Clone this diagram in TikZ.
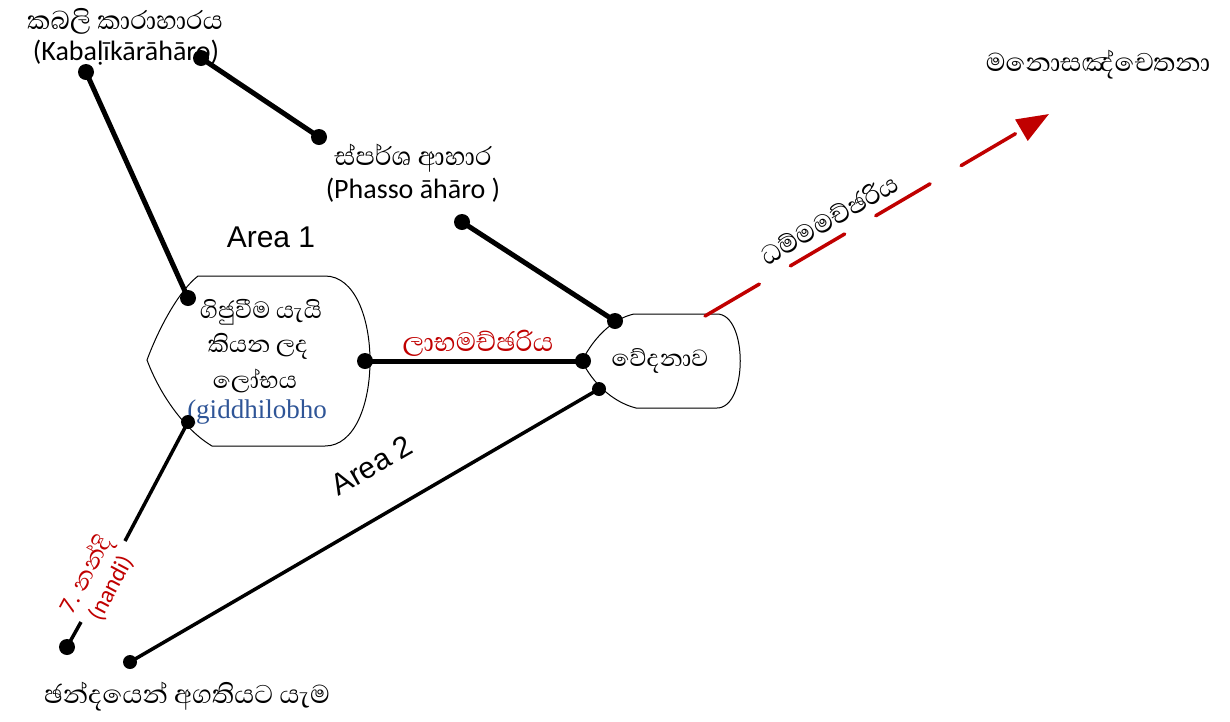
\documentclass[tikz,border=0pt]{standalone}
\usepackage{fontspec}
\usetikzlibrary{arrows.meta}
\setmainfont{Carlito}
\newfontfamily\sinhf[Script=Sinhala]{Abhaya Libre}
\newfontfamily\arialf{Liberation Sans}
\newfontfamily\timesf{Liberation Serif}
\definecolor{dred}{HTML}{C00000}
\definecolor{dblue}{HTML}{2F5597}
\tikzset{
  dot/.style={circle,fill=black,inner sep=0pt,minimum size=16pt},
  sdot/.style={circle,fill=black,inner sep=0pt,minimum size=14pt},
  thick line/.style={line width=5pt},
  thin line/.style={line width=3.5pt},
  shapebox/.style={draw=black,line width=1pt,fill=white},
  sin/.style={font=\sinhf\fontsize{33}{36}\selectfont,inner sep=0pt},
  sinin/.style={font=\sinhf\fontsize{30}{33}\selectfont,inner sep=0pt},
  lat/.style={font=\fontsize{28}{31}\selectfont,inner sep=0pt},
  area/.style={font=\arialf\fontsize{30}{34}\selectfont,inner sep=0pt},
  redarrow/.style={draw=dred,line width=3.5pt,line cap=round,dash pattern=on 63pt off 36pt,-{Triangle[length=32pt,width=24pt]}}
}
\begin{document}
\begin{tikzpicture}[x=1pt,y=-1pt]
\useasboundingbox (0,0) rectangle (1230,721);
% shapes
\path[shapebox] (147,360) .. controls (160,325) and (180,290) .. (198,276) -- (325,276)
  .. controls (385,276) and (385,446) .. (325,446) -- (212,446)
  .. controls (185,430) and (160,395) .. (147,360) -- cycle;
\path[shapebox] (582,361) .. controls (595,335) and (615,318) .. (634,314) -- (717,314)
  .. controls (748,314) and (748,408) .. (717,408) -- (636,408)
  .. controls (612,402) and (592,382) .. (582,361) -- cycle;
% texts
\node[sin] (t1) at (125,21) {කබලි කාරාහාරය};
\node[lat] (t1b) at (126,53) {(Kabaḷīkārāhāro)};
\node[sin] (t2) at (413,158) {ස්පර්ශ ආහාර};
\node[lat] (t2b) at (413,190) {(Phasso āhāro )};
\node[sin] (t3) at (1098,65) {මනොසඤ්චෙතනා};
\node[area] (a1) at (271,237) {Area 1};
\node[area,rotate=30] (a2) at (372,465) {Area 2};
\node[sinin] (g1) at (261,312) {ගිජුවීම යැයි};
\node[sinin] (g2) at (258,346) {කියන ලද};
\node[sinin] (g3) at (255,381) {ලෝභය};
\node[font=\timesf\fontsize{27}{29}\selectfont,text=dblue,inner sep=0pt] (g4) at (257,412) {(giddhilobho};
\node[font=\sinhf\fontsize{34}{36}\selectfont,inner sep=0pt,text=dred] (lm) at (478,343) {ලාභමච්ඡරිය};
\node[sinin] (vd) at (660,361) {වේදනාව};
\node[sin,rotate=30] (dm) at (829,219) {ධම්මමච්ඡරිය};
\node[align=center,text=dred,rotate=62,inner sep=0pt,font=\fontsize{24}{28}\selectfont] (nd) at (98,581) {7. {\sinhf\fontsize{30}{28}\selectfont නන්දි}\\(nandi)};
\node[sin] (ch) at (187,697) {ඡන්දයෙන් අගතියට යැම};
% dots
\node[dot] (A) at (86,72) {};
\node[dot] (B) at (188,298) {};
\node[dot] (C) at (201,58) {};
\node[dot] (D) at (319,137) {};
\node[dot] (E) at (462,222) {};
\node[dot] (F) at (615,321) {};
\node[dot] (G) at (365,361) {};
\node[dot] (H) at (583,361) {};
\node[sdot] (I) at (188,422) {};
\coordinate (I2) at (125,541);
\coordinate (L1) at (81,622);
\node[dot] (L) at (67,647) {};
\node[sdot] (J) at (599,389) {};
\node[sdot] (K) at (130,662) {};
\coordinate (R0) at (705,316);
\coordinate (R1) at (1049,114);
% connectors
\draw[thick line] (A.center) -- (B.center);
\draw[thick line] (C.center) -- (D.center);
\draw[thick line] (E.center) -- (F.center);
\draw[thick line] (G.center) -- (H.center);
\draw[thin line] (I.center) -- (I2);
\draw[thin line] (L1) -- (L.center);
\draw[thin line] (J.center) -- (K.center);
\draw[redarrow] (R0) -- (R1);
\end{tikzpicture}
\end{document}
